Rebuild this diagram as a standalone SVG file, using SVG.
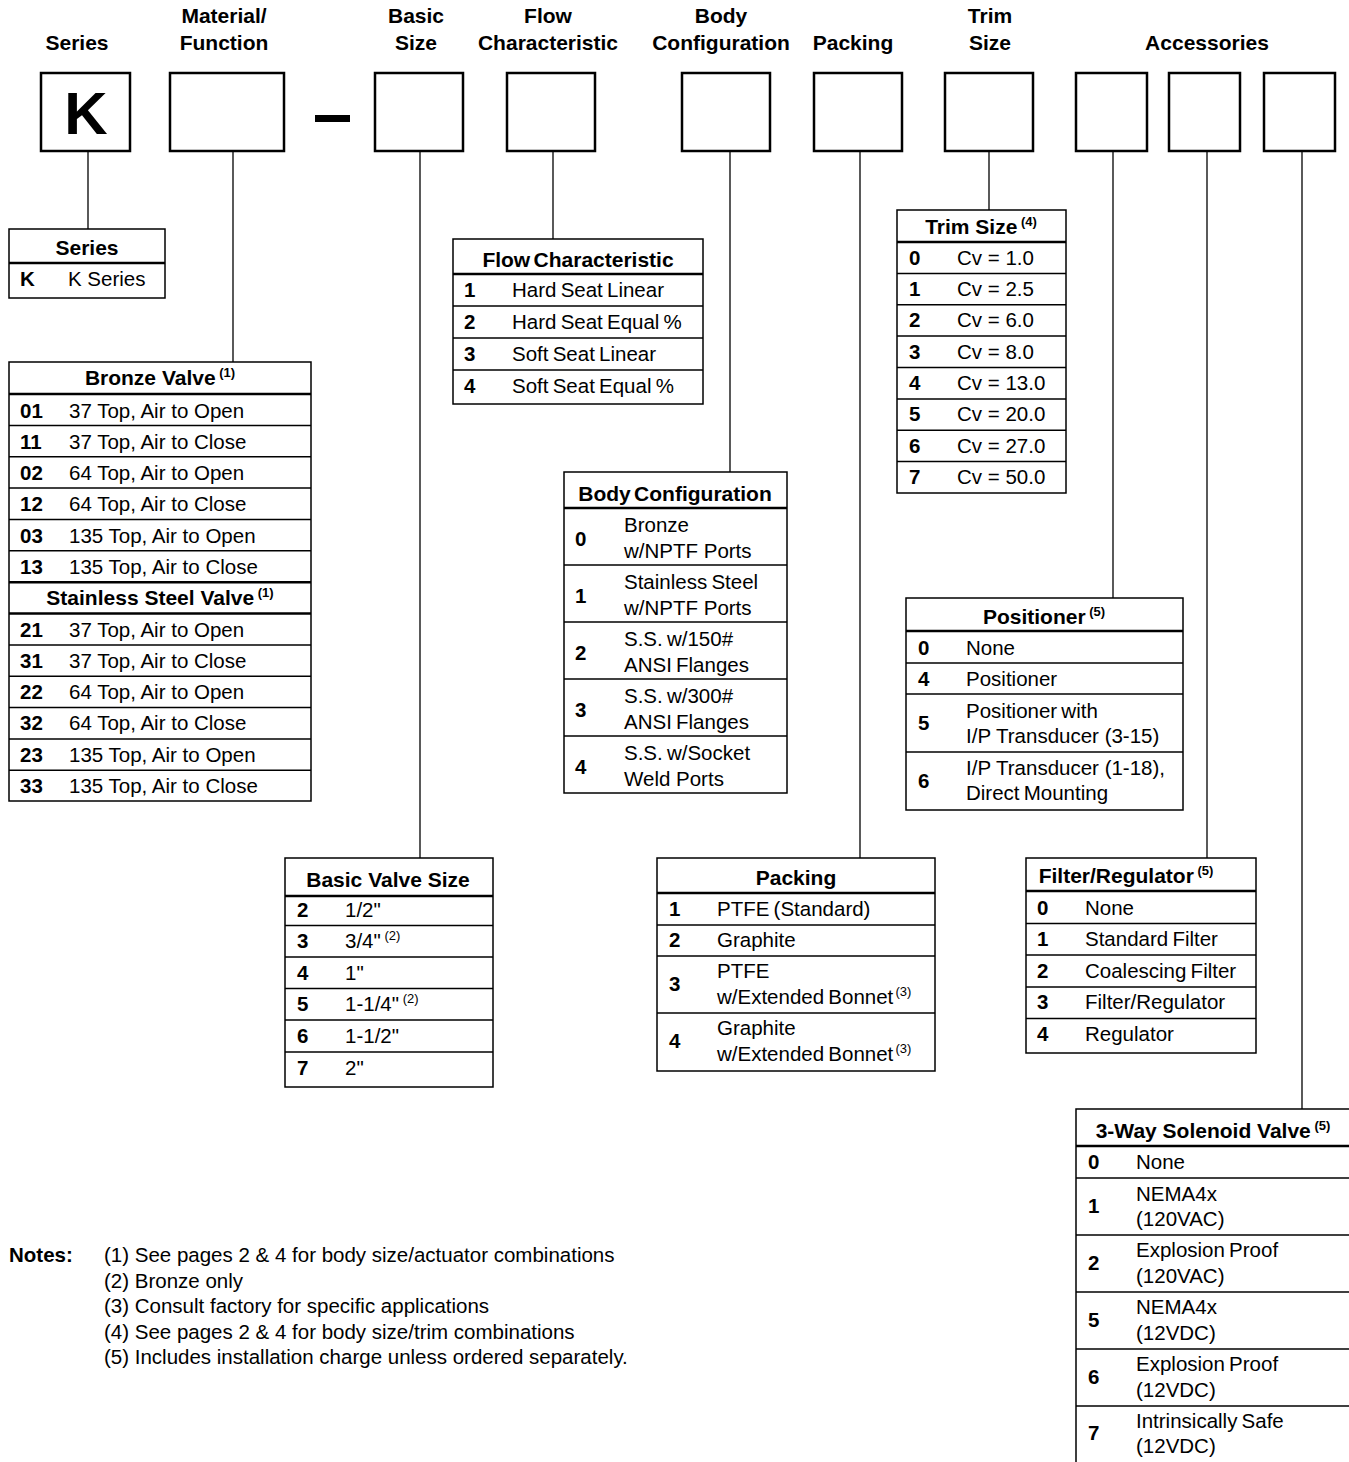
<svg xmlns="http://www.w3.org/2000/svg" width="1349" height="1462" viewBox="0 0 1349 1462">
<style>
text{font-family:"Liberation Sans",Arial,sans-serif;font-size:20.5px;fill:#000}
.h{font-weight:bold;text-anchor:middle;font-size:21px}
.b{font-weight:bold}
.sup{font-size:13px}
.sb{font-size:13px;font-weight:bold}
.box{fill:#fff;stroke:#000;stroke-width:2.5}
.tb{fill:#fff;stroke:#000;stroke-width:1.5}
.hl{stroke:#000;stroke-width:2.5}
.rl{stroke:#000;stroke-width:1.5}
.conn line{stroke:#000;stroke-width:1.3}
.tw{word-spacing:-1.5px}
.tb2{word-spacing:-2.5px}
</style>
<rect width="1349" height="1462" fill="#fff"/>

<!-- column headings -->
<g id="headings">
<text class="h" x="77" y="50">Series</text>
<text class="h" x="224" y="23">Material/</text>
<text class="h" x="224" y="50">Function</text>
<text class="h" x="416" y="23">Basic</text>
<text class="h" x="416" y="50">Size</text>
<text class="h" x="548" y="23">Flow</text>
<text class="h" x="548" y="50">Characteristic</text>
<text class="h" x="721" y="23">Body</text>
<text class="h" x="721" y="50">Configuration</text>
<text class="h" x="853" y="50">Packing</text>
<text class="h" x="990" y="23">Trim</text>
<text class="h" x="990" y="50">Size</text>
<text class="h" x="1207" y="50">Accessories</text>
</g>

<!-- code boxes -->
<g id="code-k"><rect class="box" x="41" y="73" width="89" height="78"/><text class="h" x="86" y="134" style="font-size:60px">K</text></g>
<g id="code-material"><rect class="box" x="170" y="73" width="114" height="78"/></g>
<g id="dash"><rect x="315" y="115" width="35" height="7" fill="#000"/></g>
<g id="code-basic"><rect class="box" x="375" y="73" width="88" height="78"/></g>
<g id="code-flow"><rect class="box" x="507" y="73" width="88" height="78"/></g>
<g id="code-body"><rect class="box" x="682" y="73" width="88" height="78"/></g>
<g id="code-packing"><rect class="box" x="814" y="73" width="88" height="78"/></g>
<g id="code-trim"><rect class="box" x="945" y="73" width="88" height="78"/></g>
<g id="code-acc1"><rect class="box" x="1076" y="73" width="71" height="78"/></g>
<g id="code-acc2"><rect class="box" x="1169" y="73" width="71" height="78"/></g>
<g id="code-acc3"><rect class="box" x="1264" y="73" width="71" height="78"/></g>

<!-- connectors -->
<g id="connectors" class="conn">
<line x1="88" y1="152" x2="88" y2="229"/>
<line x1="233" y1="152" x2="233" y2="362"/>
<line x1="420" y1="152" x2="420" y2="858"/>
<line x1="553" y1="152" x2="553" y2="239"/>
<line x1="730" y1="152" x2="730" y2="472"/>
<line x1="860" y1="152" x2="860" y2="858"/>
<line x1="989" y1="152" x2="989" y2="210"/>
<line x1="1113" y1="152" x2="1113" y2="598"/>
<line x1="1207" y1="152" x2="1207" y2="858"/>
<line x1="1302" y1="152" x2="1302" y2="1109"/>
</g>

<!-- Series table -->
<g id="tbl-series">
<rect class="tb" x="9" y="229" width="156" height="69"/>
<line class="hl" x1="9" y1="263" x2="165" y2="263"/>
<text class="h" x="87" y="255">Series</text>
<text class="b" x="20" y="286">K</text><text x="68" y="286">K Series</text>
</g>

<!-- Material table -->
<g id="tbl-material">
<rect class="tb" x="9" y="362" width="302" height="439"/>
<line class="hl" x1="9" y1="394" x2="311" y2="394"/>
<line class="rl" x1="9" y1="425.4" x2="311" y2="425.4"/>
<line class="rl" x1="9" y1="456.7" x2="311" y2="456.7"/>
<line class="rl" x1="9" y1="488.1" x2="311" y2="488.1"/>
<line class="rl" x1="9" y1="519.4" x2="311" y2="519.4"/>
<line class="rl" x1="9" y1="550.8" x2="311" y2="550.8"/>
<line class="hl" x1="9" y1="582.2" x2="311" y2="582.2"/>
<line class="hl" x1="9" y1="613.5" x2="311" y2="613.5"/>
<line class="rl" x1="9" y1="644.9" x2="311" y2="644.9"/>
<line class="rl" x1="9" y1="676.2" x2="311" y2="676.2"/>
<line class="rl" x1="9" y1="707.6" x2="311" y2="707.6"/>
<line class="rl" x1="9" y1="738.9" x2="311" y2="738.9"/>
<line class="rl" x1="9" y1="770.3" x2="311" y2="770.3"/>
<text class="h" x="160" y="385">Bronze Valve<tspan class="sb" dy="-8"> (1)</tspan></text>
<text class="b" x="20" y="418">01</text><text x="69" y="418">37 Top, Air to Open</text>
<text class="b" x="20" y="449">11</text><text x="69" y="449">37 Top, Air to Close</text>
<text class="b" x="20" y="480">02</text><text x="69" y="480">64 Top, Air to Open</text>
<text class="b" x="20" y="511">12</text><text x="69" y="511">64 Top, Air to Close</text>
<text class="b" x="20" y="543">03</text><text x="69" y="543">135 Top, Air to Open</text>
<text class="b" x="20" y="574">13</text><text x="69" y="574">135 Top, Air to Close</text>
<text class="h" x="160" y="605">Stainless Steel Valve<tspan class="sb" dy="-8"> (1)</tspan></text>
<text class="b" x="20" y="637">21</text><text x="69" y="637">37 Top, Air to Open</text>
<text class="b" x="20" y="668">31</text><text x="69" y="668">37 Top, Air to Close</text>
<text class="b" x="20" y="699">22</text><text x="69" y="699">64 Top, Air to Open</text>
<text class="b" x="20" y="730">32</text><text x="69" y="730">64 Top, Air to Close</text>
<text class="b" x="20" y="762">23</text><text x="69" y="762">135 Top, Air to Open</text>
<text class="b" x="20" y="793">33</text><text x="69" y="793">135 Top, Air to Close</text>
</g>

<!-- Flow table -->
<g id="tbl-flow">
<rect class="tb" x="453" y="239" width="250" height="165"/>
<line class="hl" x1="453" y1="274" x2="703" y2="274"/>
<line class="rl" x1="453" y1="306" x2="703" y2="306"/>
<line class="rl" x1="453" y1="338" x2="703" y2="338"/>
<line class="rl" x1="453" y1="370" x2="703" y2="370"/>
<text class="h tb2" x="578" y="267">Flow Characteristic</text>
<text class="b" x="464" y="297">1</text><text class="tw" x="512" y="297">Hard Seat Linear</text>
<text class="b" x="464" y="329">2</text><text class="tw" x="512" y="329">Hard Seat Equal %</text>
<text class="b" x="464" y="361">3</text><text class="tw" x="512" y="361">Soft Seat Linear</text>
<text class="b" x="464" y="393">4</text><text class="tw" x="512" y="393">Soft Seat Equal %</text>
</g>

<!-- Trim table -->
<g id="tbl-trim">
<rect class="tb" x="897" y="210" width="169" height="283"/>
<line class="hl" x1="897" y1="242" x2="1066" y2="242"/>
<line class="rl" x1="897" y1="273.4" x2="1066" y2="273.4"/>
<line class="rl" x1="897" y1="304.8" x2="1066" y2="304.8"/>
<line class="rl" x1="897" y1="336.1" x2="1066" y2="336.1"/>
<line class="rl" x1="897" y1="367.5" x2="1066" y2="367.5"/>
<line class="rl" x1="897" y1="398.9" x2="1066" y2="398.9"/>
<line class="rl" x1="897" y1="430.3" x2="1066" y2="430.3"/>
<line class="rl" x1="897" y1="461.6" x2="1066" y2="461.6"/>
<text class="h" x="981" y="234">Trim Size<tspan class="sb" dy="-8"> (4)</tspan></text>
<text class="b" x="909" y="265">0</text><text x="957" y="265">Cv = 1.0</text>
<text class="b" x="909" y="296">1</text><text x="957" y="296">Cv = 2.5</text>
<text class="b" x="909" y="327">2</text><text x="957" y="327">Cv = 6.0</text>
<text class="b" x="909" y="359">3</text><text x="957" y="359">Cv = 8.0</text>
<text class="b" x="909" y="390">4</text><text x="957" y="390">Cv = 13.0</text>
<text class="b" x="909" y="421">5</text><text x="957" y="421">Cv = 20.0</text>
<text class="b" x="909" y="453">6</text><text x="957" y="453">Cv = 27.0</text>
<text class="b" x="909" y="484">7</text><text x="957" y="484">Cv = 50.0</text>
</g>

<!-- Body configuration table -->
<g id="tbl-body">
<rect class="tb" x="564" y="472" width="223" height="321"/>
<line class="hl" x1="564" y1="508" x2="787" y2="508"/>
<line class="rl" x1="564" y1="565" x2="787" y2="565"/>
<line class="rl" x1="564" y1="622" x2="787" y2="622"/>
<line class="rl" x1="564" y1="679" x2="787" y2="679"/>
<line class="rl" x1="564" y1="736" x2="787" y2="736"/>
<text class="h tb2" x="675" y="501">Body Configuration</text>
<text class="b" x="575" y="546">0</text><text x="624" y="532">Bronze</text><text x="624" y="558">w/NPTF Ports</text>
<text class="b" x="575" y="603">1</text><text class="tw" x="624" y="589">Stainless Steel</text><text x="624" y="615">w/NPTF Ports</text>
<text class="b" x="575" y="660">2</text><text class="tw" x="624" y="646">S.S. w/150#</text><text class="tw" x="624" y="672">ANSI Flanges</text>
<text class="b" x="575" y="717">3</text><text class="tw" x="624" y="703">S.S. w/300#</text><text class="tw" x="624" y="729">ANSI Flanges</text>
<text class="b" x="575" y="774">4</text><text class="tw" x="624" y="760">S.S. w/Socket</text><text x="624" y="786">Weld Ports</text>
</g>

<!-- Positioner table -->
<g id="tbl-positioner">
<rect class="tb" x="906" y="598" width="277" height="212"/>
<line class="hl" x1="906" y1="631" x2="1183" y2="631"/>
<line class="rl" x1="906" y1="663" x2="1183" y2="663"/>
<line class="rl" x1="906" y1="694" x2="1183" y2="694"/>
<line class="rl" x1="906" y1="752" x2="1183" y2="752"/>
<text class="h" x="1044" y="624">Positioner<tspan class="sb" dy="-8"> (5)</tspan></text>
<text class="b" x="918" y="655">0</text><text x="966" y="655">None</text>
<text class="b" x="918" y="686">4</text><text x="966" y="686">Positioner</text>
<text class="b" x="918" y="730">5</text><text class="tw" x="966" y="718">Positioner with</text><text x="966" y="743">I/P Transducer (3-15)</text>
<text class="b" x="918" y="788">6</text><text x="966" y="775">I/P Transducer (1-18),</text><text class="tw" x="966" y="800">Direct Mounting</text>
</g>

<!-- Basic valve size table -->
<g id="tbl-basic">
<rect class="tb" x="285" y="858" width="208" height="229"/>
<line class="hl" x1="285" y1="896" x2="493" y2="896"/>
<line class="rl" x1="285" y1="925.5" x2="493" y2="925.5"/>
<line class="rl" x1="285" y1="957" x2="493" y2="957"/>
<line class="rl" x1="285" y1="988.5" x2="493" y2="988.5"/>
<line class="rl" x1="285" y1="1020" x2="493" y2="1020"/>
<line class="rl" x1="285" y1="1052" x2="493" y2="1052"/>
<text class="h" x="388" y="887">Basic Valve Size</text>
<text class="b" x="297" y="917">2</text><text x="345" y="917">1/2"</text>
<text class="b" x="297" y="948">3</text><text x="345" y="948">3/4"<tspan class="sup" dy="-8"> (2)</tspan></text>
<text class="b" x="297" y="980">4</text><text x="345" y="980">1"</text>
<text class="b" x="297" y="1011">5</text><text x="345" y="1011">1-1/4"<tspan class="sup" dy="-8"> (2)</tspan></text>
<text class="b" x="297" y="1043">6</text><text x="345" y="1043">1-1/2"</text>
<text class="b" x="297" y="1075">7</text><text x="345" y="1075">2"</text>
</g>

<!-- Packing table -->
<g id="tbl-packing">
<rect class="tb" x="657" y="858" width="278" height="213"/>
<line class="hl" x1="657" y1="893" x2="935" y2="893"/>
<line class="rl" x1="657" y1="925" x2="935" y2="925"/>
<line class="rl" x1="657" y1="956" x2="935" y2="956"/>
<line class="rl" x1="657" y1="1013" x2="935" y2="1013"/>
<text class="h" x="796" y="885">Packing</text>
<text class="b" x="669" y="916">1</text><text class="tw" x="717" y="916">PTFE (Standard)</text>
<text class="b" x="669" y="947">2</text><text x="717" y="947">Graphite</text>
<text class="b" x="669" y="991">3</text><text x="717" y="978">PTFE</text><text class="tw" x="717" y="1004">w/Extended Bonnet<tspan class="sup" dy="-8"> (3)</tspan></text>
<text class="b" x="669" y="1048">4</text><text x="717" y="1035">Graphite</text><text class="tw" x="717" y="1061">w/Extended Bonnet<tspan class="sup" dy="-8"> (3)</tspan></text>
</g>

<!-- Filter/Regulator table -->
<g id="tbl-filter">
<rect class="tb" x="1026" y="858" width="230" height="195"/>
<line class="hl" x1="1026" y1="891" x2="1256" y2="891"/>
<line class="rl" x1="1026" y1="923.5" x2="1256" y2="923.5"/>
<line class="rl" x1="1026" y1="955" x2="1256" y2="955"/>
<line class="rl" x1="1026" y1="987" x2="1256" y2="987"/>
<line class="rl" x1="1026" y1="1018.5" x2="1256" y2="1018.5"/>
<text class="h" x="1126" y="883">Filter/Regulator<tspan class="sb" dy="-8"> (5)</tspan></text>
<text class="b" x="1037" y="915">0</text><text x="1085" y="915">None</text>
<text class="b" x="1037" y="946">1</text><text class="tw" x="1085" y="946">Standard Filter</text>
<text class="b" x="1037" y="978">2</text><text class="tw" x="1085" y="978">Coalescing Filter</text>
<text class="b" x="1037" y="1009">3</text><text x="1085" y="1009">Filter/Regulator</text>
<text class="b" x="1037" y="1041">4</text><text x="1085" y="1041">Regulator</text>
</g>

<!-- Solenoid table -->
<g id="tbl-solenoid">
<rect class="tb" x="1076" y="1109" width="280" height="360"/>
<line class="hl" x1="1076" y1="1146" x2="1349" y2="1146"/>
<line class="rl" x1="1076" y1="1178" x2="1349" y2="1178"/>
<line class="rl" x1="1076" y1="1235" x2="1349" y2="1235"/>
<line class="rl" x1="1076" y1="1292" x2="1349" y2="1292"/>
<line class="rl" x1="1076" y1="1349" x2="1349" y2="1349"/>
<line class="rl" x1="1076" y1="1406" x2="1349" y2="1406"/>
<text class="h" x="1213" y="1138">3-Way Solenoid Valve<tspan class="sb" dy="-8"> (5)</tspan></text>
<text class="b" x="1088" y="1169">0</text><text x="1136" y="1169">None</text>
<text class="b" x="1088" y="1213">1</text><text x="1136" y="1201">NEMA4x</text><text x="1136" y="1226">(120VAC)</text>
<text class="b" x="1088" y="1270">2</text><text class="tw" x="1136" y="1257">Explosion Proof</text><text x="1136" y="1283">(120VAC)</text>
<text class="b" x="1088" y="1327">5</text><text x="1136" y="1314">NEMA4x</text><text x="1136" y="1340">(12VDC)</text>
<text class="b" x="1088" y="1384">6</text><text class="tw" x="1136" y="1371">Explosion Proof</text><text x="1136" y="1397">(12VDC)</text>
<text class="b" x="1088" y="1440">7</text><text class="tw" x="1136" y="1428">Intrinsically Safe</text><text x="1136" y="1453">(12VDC)</text>
</g>

<!-- Notes -->
<g id="notes">
<text class="b" x="9" y="1262">Notes:</text>
<text x="104" y="1262">(1) See pages 2 &amp; 4 for body size/actuator combinations</text>
<text x="104" y="1288">(2) Bronze only</text>
<text x="104" y="1313">(3) Consult factory for specific applications</text>
<text x="104" y="1339">(4) See pages 2 &amp; 4 for body size/trim combinations</text>
<text x="104" y="1364">(5) Includes installation charge unless ordered separately.</text>
</g>
</svg>
